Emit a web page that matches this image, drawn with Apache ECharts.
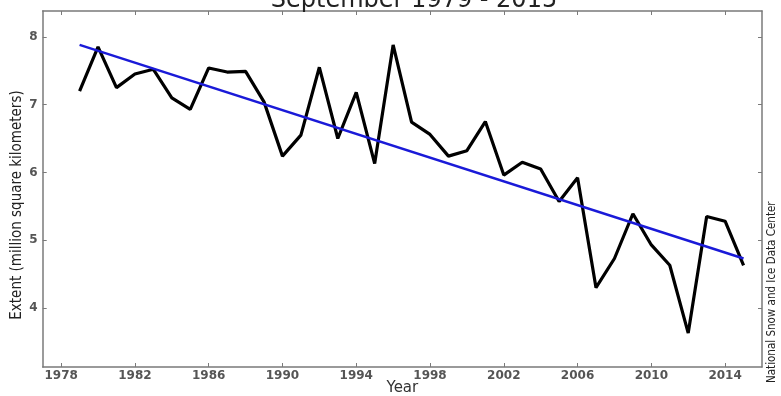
<!DOCTYPE html>
<html>
<head>
<meta charset="utf-8">
<script src="https://cdn.jsdelivr.net/npm/echarts@6/dist/echarts.min.js"></script>
<style>html,body{margin:0;padding:0;background:#fff}#c{width:781px;height:396px}</style>
</head>
<body>
<div id="c"></div>
<script>
const years = [1979,1980,1981,1982,1983,1984,1985,1986,1987,1988,1989,1990,1991,1992,1993,1994,1995,1996,1997,1998,1999,2000,2001,2002,2003,2004,2005,2006,2007,2008,2009,2010,2011,2012,2013,2014,2015];
const extent = [7.20,7.85,7.25,7.45,7.52,7.10,6.93,7.54,7.48,7.49,7.04,6.24,6.55,7.55,6.50,7.18,6.13,7.88,6.74,6.56,6.24,6.32,6.75,5.96,6.15,6.05,5.57,5.92,4.30,4.73,5.39,4.93,4.63,3.63,5.35,5.28,4.63];
const trendYears = [1979, 2015];
const trendValues = [7.88, 4.73];
const xTicks = [1978,1982,1986,1990,1994,1998,2002,2006,2010,2014];
const yTicks = [4,5,6,7,8];

const frame = {lineStyle:{color:'#7a7a7a',width:1.5}};
const tickStyle = {lineStyle:{color:'#7a7a7a',width:1}};
const labelFont = {fontFamily:'DejaVu Sans',fontSize:12,fontWeight:'bold',color:'#555'};

const chart = echarts.init(document.getElementById('c'));
chart.setOption({
  animation:false,
  backgroundColor:'#fff',
  title:{text:'September 1979 - 2015',left:409,textAlign:'center',top:-16,
    textStyle:{fontFamily:'DejaVu Sans',fontSize:24,fontWeight:'normal',color:'#222'}},
  graphic:[{
    type:'text',x:17,y:205,rotation:Math.PI/2,
    style:{text:'Extent (million square kilometers)',fontFamily:'DejaVu Sans Condensed',fontSize:15,fill:'#222',align:'center',verticalAlign:'middle'}
  },{
    type:'text',x:772,y:383,rotation:Math.PI/2,
    style:{text:'National Snow and Ice Data Center',fontFamily:'DejaVu Sans Condensed',fontSize:11.5,fill:'#222',align:'left',verticalAlign:'middle'}
  }],
  grid:{left:42.7,right:19,top:11,bottom:29,containLabel:false,outerBoundsMode:'none'},
  xAxis:[{
    type:'value',min:1977,max:2016,position:'bottom',
    name:'Year',nameLocation:'middle',nameGap:14,nameMoveOverlap:false,
    nameTextStyle:{fontFamily:'DejaVu Sans',fontSize:15,color:'#333'},
    axisLine:Object.assign({show:true,onZero:false},frame),
    axisTick:Object.assign({show:true,inside:true,length:4,customValues:xTicks},tickStyle),
    axisLabel:Object.assign({margin:3,customValues:xTicks,formatter:v=>String(v)},labelFont),
    splitLine:{show:false}
  },{
    type:'value',min:1977,max:2016,position:'top',
    axisLine:Object.assign({show:true,onZero:false},frame),
    axisTick:Object.assign({show:true,inside:true,length:4,customValues:xTicks},tickStyle),
    axisLabel:{show:false},splitLine:{show:false}
  }],
  yAxis:[{
    type:'value',min:3.13,max:8.38,position:'left',
    axisLine:Object.assign({show:true,onZero:false},frame),
    axisTick:Object.assign({show:true,inside:true,length:4,customValues:yTicks},tickStyle),
    axisLabel:Object.assign({margin:5,customValues:yTicks,formatter:v=>String(v)},labelFont),
    splitLine:{show:false}
  },{
    type:'value',min:3.13,max:8.38,position:'right',
    axisLine:Object.assign({show:true,onZero:false},frame),
    axisTick:Object.assign({show:true,inside:true,length:4,customValues:yTicks},tickStyle),
    axisLabel:{show:false},splitLine:{show:false}
  }],
  series:[{
    type:'line',xAxisIndex:0,yAxisIndex:0,
    data:years.map((y,i)=>[y,extent[i]]),
    showSymbol:false,symbol:'none',
    lineStyle:{color:'#000',width:3.2},z:2
  },{
    type:'line',xAxisIndex:0,yAxisIndex:0,
    data:trendYears.map((y,i)=>[y,trendValues[i]]),
    showSymbol:false,symbol:'none',
    lineStyle:{color:'#1a1ad8',width:2.5},z:3
  }]
});
</script>
</body>
</html>
